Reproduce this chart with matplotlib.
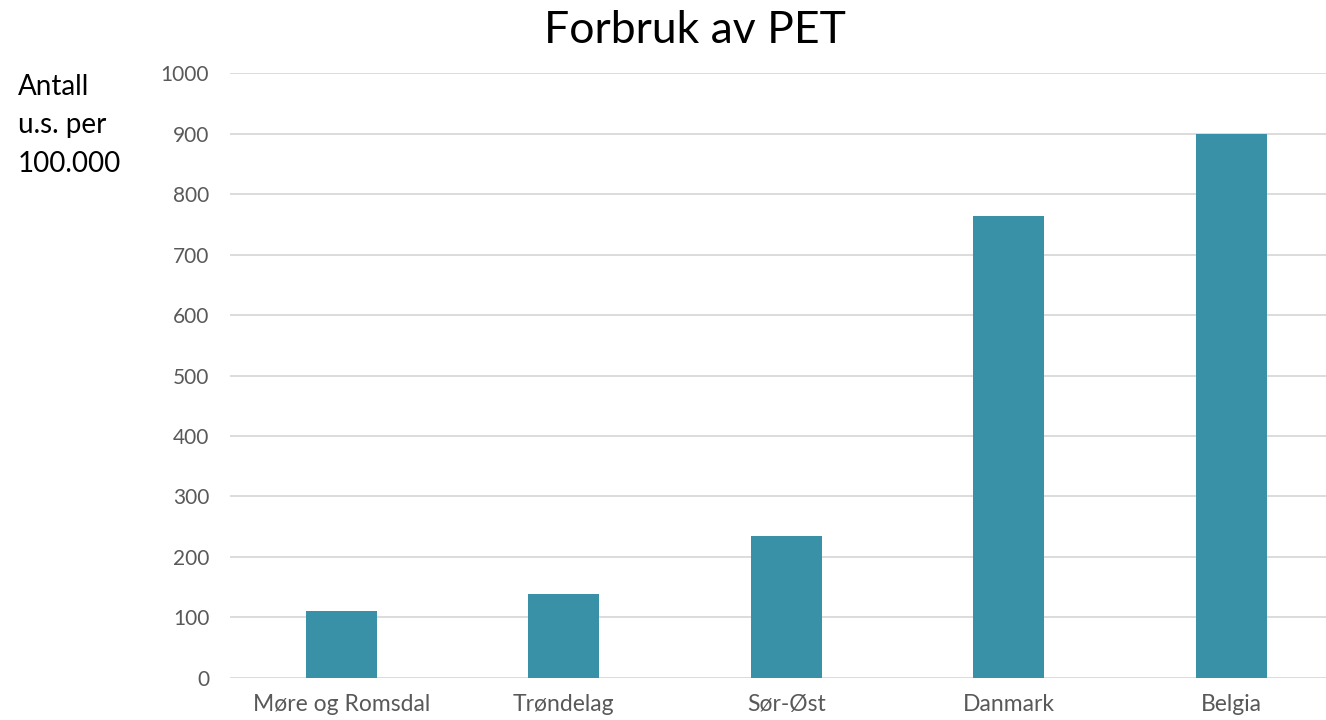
import matplotlib
matplotlib.use("Agg")
import matplotlib.pyplot as plt

categories = ["Møre og Romsdal", "Trøndelag", "Sør-Øst", "Danmark", "Belgia"]
values = [111, 139, 235, 764, 900]
yticks = [0, 100, 200, 300, 400, 500, 600, 700, 800, 900, 1000]

plt.rcParams["font.family"] = ["Lato", "DejaVu Sans"]

W, H = 1326, 720
fig = plt.figure(figsize=(W / 100, H / 100), dpi=100)

# plot area in pixel terms, converted to figure fractions
left, right, top, bottom = 230, 1342.5, 73.3, 677.7
ax = fig.add_axes([left / W, 1 - bottom / H, (right - left) / W, (bottom - top) / H])

x = list(range(len(categories)))
ax.bar(x, values, width=0.317, color="#3891A7", zorder=3)

ax.set_xlim(-0.5, len(categories) - 0.5)
ax.set_ylim(0, 1000)
ax.set_yticks(yticks)
ax.set_yticklabels([str(t) for t in yticks])
ax.set_xticks(x)
ax.set_xticklabels(categories)

ax.grid(axis="y", color="#D9D9D9", linewidth=1.3, zorder=0)
ax.set_axisbelow(True)
for s in ax.spines.values():
    s.set_visible(False)
ax.tick_params(axis="both", length=0, colors="#595959")
ax.tick_params(axis="y", pad=15, labelsize=15)
ax.tick_params(axis="x", pad=12, labelsize=16.5)

fig.text(695 / W, 1 - 43 / H, "Forbruk av PET", ha="center", va="baseline",
         fontsize=32, color="#000000")

fig.text(18 / W, 1 - 95 / H, "Antall", ha="left", va="baseline", fontsize=20, color="#000000")
fig.text(18 / W, 1 - 133 / H, "u.s. per", ha="left", va="baseline", fontsize=20, color="#000000")
fig.text(18 / W, 1 - 172 / H, "100.000", ha="left", va="baseline", fontsize=20, color="#000000")

fig.savefig("out.png", dpi=100, facecolor="white")
